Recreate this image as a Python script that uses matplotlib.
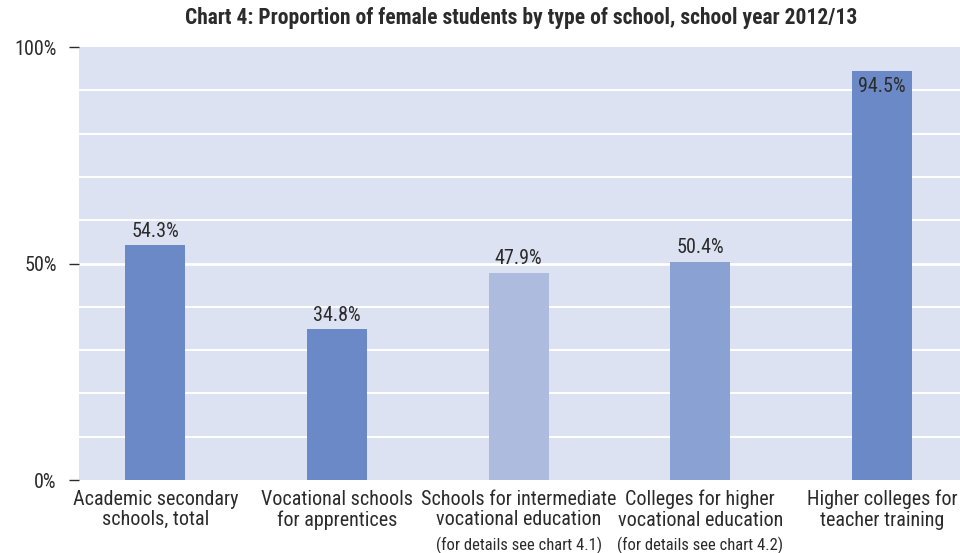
import matplotlib.pyplot as plt
import matplotlib.transforms as mtransforms

plt.rcParams['font.family'] = ['Roboto Condensed', 'DejaVu Sans']

categories = ["Academic secondary\nschools, total",
              "Vocational schools\nfor apprentices",
              "Schools for intermediate\nvocational education",
              "Colleges for higher\nvocational education",
              "Higher colleges for\nteacher training"]
notes = ["", "", "(for details see chart 4.1)", "(for details see chart 4.2)", ""]
values = [54.3, 34.8, 47.9, 50.4, 94.5]
colors = ["#6a89c6", "#6a89c6", "#adbbdf", "#8aa2d3", "#6a89c6"]

text_col = "#2b2b2b"

fig = plt.figure(figsize=(9.6, 5.53), dpi=100)
ax = fig.add_axes([0.0823, 0.132, 0.9177, 0.783])
ax.set_facecolor("#dde2f2")

x = list(range(len(values)))
ax.bar(x, values, width=0.33, color=colors, zorder=3)

ax.set_ylim(0, 100)
ax.set_xlim(-0.42, 4.43)
for g in range(10, 100, 10):
    ax.axhline(g, color="white", lw=2.0 if g == 50 else 1.4, zorder=1)

for s in ax.spines.values():
    s.set_visible(False)

ax.set_yticks([0, 50, 100])
ax.set_yticklabels(["0%", "50%", "100%"])
ax.tick_params(axis="y", length=7, width=1, color=text_col, labelcolor=text_col,
               labelsize=14.5, pad=9)
ax.set_xticks(x)
ax.set_xticklabels(categories, fontsize=14.5, color=text_col, linespacing=1.1)
ax.tick_params(axis="x", length=0, pad=7)

trans = mtransforms.blended_transform_factory(ax.transData, ax.transAxes)
for xi, n in zip(x, notes):
    if n:
        ax.text(xi, -0.162, n, transform=trans, ha="center", va="baseline",
                fontsize=12, color=text_col)

for xi, v in zip(x, values):
    lab = f"{v:.1f}%"
    if v > 90:
        ax.text(xi, v - 1.5, lab, ha="center", va="top", fontsize=14.5, color=text_col, zorder=4)
    else:
        ax.text(xi, v + 1.0, lab, ha="center", va="bottom", fontsize=14.5, color=text_col, zorder=4)

fig.text(0.543, 0.967, "Chart 4: Proportion of female students by type of school, school year 2012/13",
         ha="center", va="center", fontsize=15.5, fontweight="bold", color=text_col)

fig.savefig("out.png", dpi=100)
